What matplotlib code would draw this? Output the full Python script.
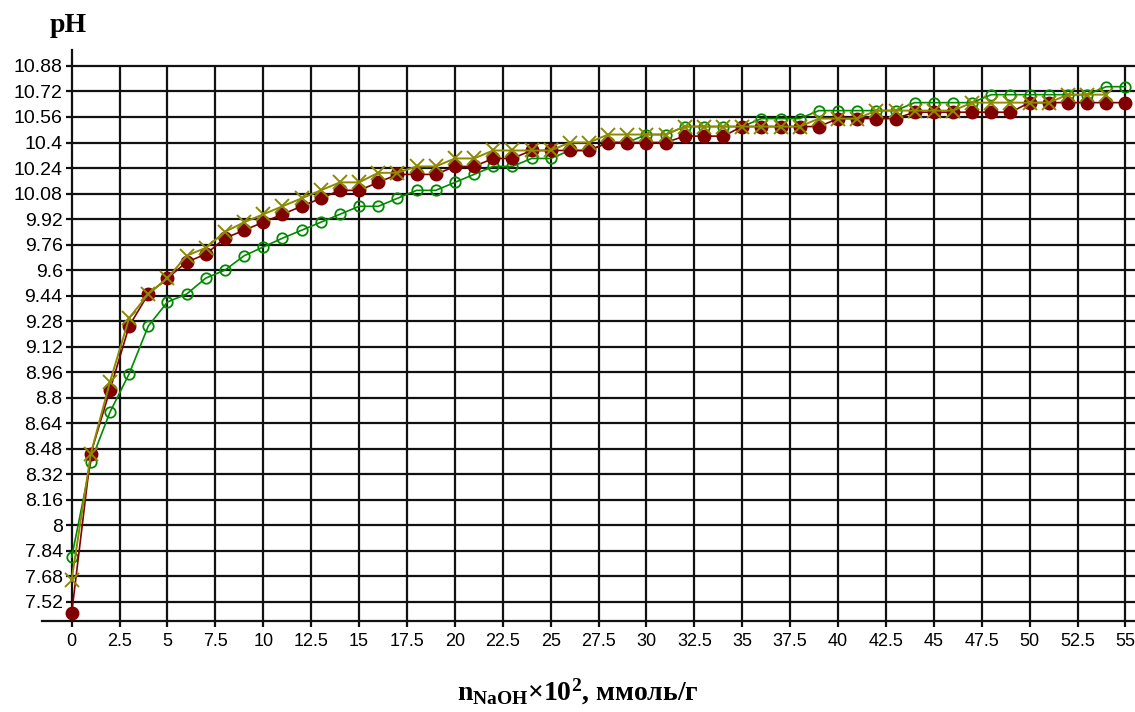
import numpy as np
import matplotlib.pyplot as plt

# data: n(NaOH)*10^2, mmol/g  ->  pH
x = np.arange(0, 56)

ph_red = [7.45, 8.45, 8.85, 9.25, 9.45, 9.55, 9.65, 9.70, 9.80, 9.85,
          9.90, 9.95, 10.00, 10.05, 10.10, 10.10, 10.15, 10.20, 10.20, 10.20,
          10.25, 10.25, 10.30, 10.30, 10.35, 10.35, 10.35, 10.35, 10.40, 10.40,
          10.40, 10.40, 10.44, 10.44, 10.44, 10.50, 10.50, 10.50, 10.50, 10.50,
          10.55, 10.55, 10.55, 10.55, 10.59, 10.59, 10.59, 10.59, 10.59, 10.59,
          10.65, 10.65, 10.65, 10.65, 10.65, 10.65]

ph_green = [7.80, 8.40, 8.71, 8.95, 9.25, 9.40, 9.45, 9.55, 9.60, 9.69,
            9.745, 9.80, 9.85, 9.90, 9.95, 10.00, 10.00, 10.05, 10.10, 10.10,
            10.15, 10.20, 10.25, 10.25, 10.30, 10.30, 10.35, 10.35, 10.40, 10.40,
            10.45, 10.45, 10.50, 10.50, 10.50, 10.50, 10.55, 10.55, 10.55, 10.60,
            10.60, 10.60, 10.60, 10.60, 10.65, 10.65, 10.65, 10.65, 10.70, 10.70,
            10.70, 10.70, 10.70, 10.70, 10.75, 10.75]

ph_olive = [7.66, 8.45, 8.90, 9.30, 9.45, 9.55, 9.69, 9.74, 9.84, 9.90,
            9.95, 10.00, 10.05, 10.10, 10.15, 10.15, 10.21, 10.21, 10.25, 10.25,
            10.30, 10.30, 10.35, 10.35, 10.35, 10.35, 10.40, 10.40, 10.45, 10.45,
            10.45, 10.45, 10.50, 10.50, 10.50, 10.50, 10.50, 10.50, 10.50, 10.55,
            10.55, 10.55, 10.60, 10.60, 10.60, 10.60, 10.60, 10.65, 10.65, 10.65,
            10.65, 10.65, 10.70, 10.70, 10.70]

xticks = np.arange(0, 55.1, 2.5)
yticks = np.round(7.52 + 0.16 * np.arange(22), 2)

plt.rcParams['font.family'] = ['Liberation Sans', 'DejaVu Sans']
plt.rcParams['mathtext.fontset'] = 'custom'
plt.rcParams['mathtext.rm'] = 'Liberation Serif:bold'
plt.rcParams['mathtext.it'] = 'Liberation Serif:bold'
plt.rcParams['mathtext.bf'] = 'Liberation Serif:bold'

fig = plt.figure(figsize=(11.35, 7.12), dpi=100)
ax = fig.add_axes([42 / 1135, 91 / 712, 1093 / 1135, 571 / 712])

x0, x1 = -1.55, 55.5
y0, y1 = 7.40, 10.98
ax.set_xlim(x0, x1)
ax.set_ylim(y0, y1)

# grid
grid_kw = dict(color='#111111', lw=1.6, zorder=1)
ax.hlines(yticks, 0, x1, clip_on=False, **grid_kw)
ax.vlines(xticks[1:], y0, yticks[-1], **grid_kw)

# curves
ax.plot(x, ph_green, color='#008a00', lw=1.2, marker='o', ms=7.5,
        mfc='none', mec='#008a00', mew=1.3, zorder=3)
ax.plot(x, ph_red, color='#800000', lw=1.2, marker='o', ms=9,
        mfc='#800000', mec='#800000', zorder=4)
ax.plot(x[:len(ph_olive)], ph_olive, color='#8c8a00', lw=1.4, marker='x',
        ms=10, mew=1.4, zorder=5)

for s in ['top', 'right']:
    ax.spines[s].set_visible(False)
ax.spines['left'].set_position(('data', 0))
ax.spines['left'].set_linewidth(1.6)
ax.spines['bottom'].set_linewidth(1.6)
ax.spines['left'].set_color('#111111')
ax.spines['bottom'].set_color('#111111')

ax.set_xticks(xticks)
ax.set_xticklabels(['%g' % v for v in xticks])
ax.set_yticks(yticks)
ax.set_yticklabels(['%g' % v for v in yticks])
ax.tick_params(axis='both', direction='out', length=4.5, width=1.6,
               color='#111111', labelsize=13)
ax.tick_params(axis='y', pad=2, labelsize=14)
ax.tick_params(axis='x', pad=4)

fig.text(68 / 1135, 1 - 25 / 712, 'pH', family='Liberation Serif',
         weight='bold', fontsize=20, ha='center', va='center')
fig.text(578 / 1135, 1 - 692 / 712,
         r'n$_{\mathrm{NaOH}}$×10$^{\mathrm{2}}$, ммоль/г',
         family='Liberation Serif', weight='bold', fontsize=20,
         ha='center', va='center')

fig.savefig('out.png', dpi=100)
